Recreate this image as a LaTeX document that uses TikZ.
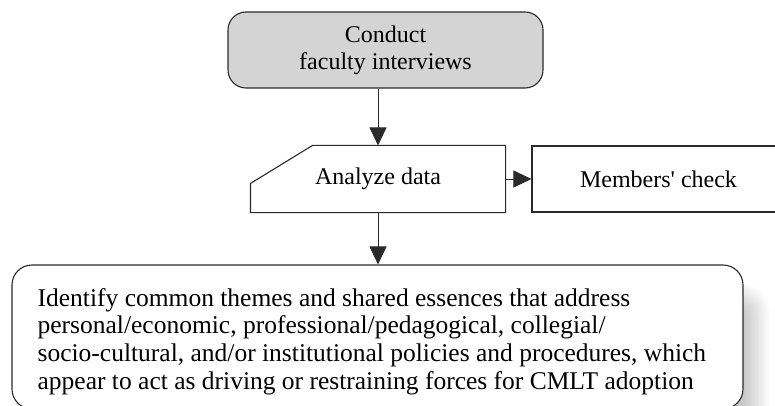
\documentclass[tikz,border=0pt]{standalone}
\usepackage{fontspec}
\setmainfont{Liberation Serif}
\usetikzlibrary{arrows.meta,shadows.blur}

\definecolor{boxgray}{HTML}{D4D4D4}
\definecolor{inkline}{HTML}{2A2A2A}

\tikzset{
  stepshape/.style={draw=inkline, line width=1.1pt, align=center,
    font=\fontsize{24}{27}\selectfont, inner sep=0pt},
  flowarrow/.style={draw=inkline, line width=1pt,
    -{Triangle[length=18pt,width=17pt]}},
}

\begin{document}
\begin{tikzpicture}[x=1pt,y=-1pt]
  \useasboundingbox (0,0) rectangle (775,406);
  \clip (0,0) rectangle (775,406);

  % interviews
  \node[stepshape, fill=boxgray, rounded corners=18pt,
        minimum width=315pt, minimum height=76pt] (interviews) at (385.5,50)
        {Conduct\\faculty interviews};

  % analysis step with a cut top-left corner
  \node[stepshape, draw=none, minimum width=254pt, minimum height=66pt]
        (analyze) at (378,179) {Analyze data};
  \draw[draw=inkline, line width=1.1pt]
        ([xshift=62pt]analyze.north west) -- (analyze.north east)
        -- (analyze.south east) -- (analyze.south west)
        -- ([yshift=-38pt]analyze.north west) -- cycle;

  % members' check, running off the right edge
  \node[stepshape, minimum width=253pt, minimum height=66pt]
        (members) at (658.5,179) {Members\textquotesingle{} check};

  % themes
  \node[stepshape, rounded corners=20pt, fill=white,
        blur shadow={shadow xshift=14pt, shadow yshift=-30pt,
                     shadow blur radius=14pt, shadow blur steps=16,
                     shadow opacity=22},
        minimum width=731pt, minimum height=144pt] (themes) at (377.5,337) {};
  \node[font=\fontsize{25.5}{27.8}\selectfont, align=left, inner sep=0pt,
        anchor=west] (themestext) at ([xshift=26pt,yshift=-4.5pt]themes.west)
        {Identify common themes and shared essences that address\\
         personal/economic, professional/pedagogical, collegial/\\
         socio-cultural, and/or institutional policies and procedures, which\\
         appear to act as driving or restraining forces for CMLT adoption};

  % connectors
  \draw[flowarrow] (interviews.south -| analyze.north) -- (analyze.north);
  \draw[flowarrow] (analyze.east) -- (members.west);
  \draw[flowarrow] (analyze.south) -- (analyze.south |- themes.north);
\end{tikzpicture}
\end{document}
